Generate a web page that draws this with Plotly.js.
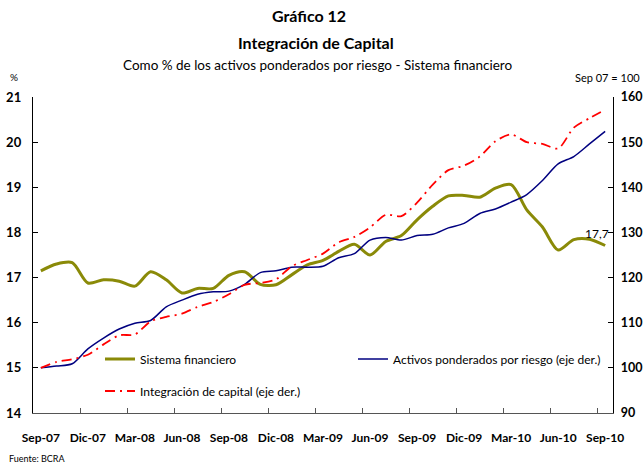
<!DOCTYPE html>
<html>
<head>
<meta charset="utf-8">
<script src="https://cdn.plot.ly/plotly-3.0.1.min.js"></script>
<style>
  html, body { margin: 0; padding: 0; background: #fff; }
  #chart { width: 643px; height: 466px; }
</style>
</head>
<body>
<div id="chart"></div>
<script>
// Monthly categories Sep-07 .. Sep-10
const months = [
  'Sep-07','Oct-07','Nov-07','Dic-07','Ene-08','Feb-08','Mar-08','Abr-08','May-08','Jun-08','Jul-08','Ago-08',
  'Sep-08','Oct-08','Nov-08','Dic-08','Ene-09','Feb-09','Mar-09','Abr-09','May-09','Jun-09','Jul-09','Ago-09',
  'Sep-09','Oct-09','Nov-09','Dic-09','Ene-10','Feb-10','Mar-10','Abr-10','May-10','Jun-10','Jul-10','Ago-10',
  'Sep-10'
];

// Sistema financiero (%), left axis
const sistemaFinanciero = [
  17.15, 17.30, 17.33, 16.88, 16.95, 16.92, 16.81, 17.13, 16.95, 16.66, 16.76, 16.76,
  17.05, 17.13, 16.85, 16.84, 17.06, 17.28, 17.38, 17.58, 17.74, 17.50, 17.80, 17.93,
  18.28, 18.58, 18.81, 18.82, 18.78, 18.98, 19.06, 18.50, 18.12, 17.61, 17.84, 17.85,
  17.71
];

// Activos ponderados por riesgo (Sep 07 = 100), right axis
const activosPonderados = [
  100.0, 100.4, 100.9, 104.2, 106.6, 108.6, 109.9, 110.5, 113.5, 115.0, 116.3, 116.85,
  117.0, 118.5, 121.1, 121.5, 122.3, 122.3, 122.5, 124.4, 125.3, 128.3, 128.9, 128.3,
  129.3, 129.6, 131.0, 132.0, 134.2, 135.2, 136.7, 138.4, 141.5, 145.2, 146.8, 149.6,
  152.4
];

// Integración de capital (Sep 07 = 100), right axis
const integracionCapital = [
  100.0, 101.3, 101.9, 102.9, 105.2, 107.2, 107.4, 110.3, 111.3, 112.0, 113.5, 114.6,
  116.3, 118.4, 118.8, 119.6, 122.5, 123.9, 125.3, 127.8, 129.0, 131.1, 133.9, 133.6,
  136.6, 140.6, 143.8, 144.8, 146.8, 150.2, 151.7, 150.0, 149.6, 148.6, 153.2, 155.3,
  157.2
];

const seriesNames = [
  'Sistema financiero',
  'Activos ponderados por riesgo (eje der.)',
  'Integración de capital (eje der.)'
];

const FONT = 'Lato, "Open Sans", sans-serif';
const idx = months.map((_, i) => i);
const labelIdx = idx.filter(i => i % 3 === 0);
const labelText = labelIdx.map(i => months[i]);
const boundaryIdx = labelIdx.slice(1).map(i => i - 0.5);
const xr = [-0.5, months.length - 0.5];

const traces = [
  {
    x: idx, y: sistemaFinanciero, name: seriesNames[0], type: 'scatter', mode: 'lines',
    line: { color: '#8a8a08', width: 3, shape: 'spline', smoothing: 0.8 },
    xaxis: 'x', yaxis: 'y', legend: 'legend'
  },
  {
    x: idx, y: activosPonderados, name: seriesNames[1], type: 'scatter', mode: 'lines',
    line: { color: '#000080', width: 1.5, shape: 'spline', smoothing: 0.8 },
    xaxis: 'x2', yaxis: 'y2', legend: 'legend2'
  },
  {
    x: idx, y: integracionCapital, name: seriesNames[2], type: 'scatter', mode: 'lines',
    line: { color: '#ff0000', width: 1.8, shape: 'spline', smoothing: 0.8, dash: '10px,5px,2px,5px' },
    xaxis: 'x2', yaxis: 'y2', legend: 'legend3'
  }
];

function py(px) { return (413 - px) / 316; }
function pxx(px) { return (px - 33) / 580; }

const lastI = months.length - 1;

const layout = {
  width: 643, height: 466,
  margin: { l: 33, r: 30, t: 97, b: 53 },
  paper_bgcolor: '#ffffff', plot_bgcolor: '#ffffff',
  font: { family: FONT, color: '#000000', size: 12 },
  showlegend: true,
  xaxis: {
    range: xr, tickmode: 'array', tickvals: labelIdx, ticktext: labelText,
    ticks: '', showgrid: false, zeroline: false,
    showline: true, linecolor: '#555555', linewidth: 1.2,
    tickfont: { family: FONT, size: 12, color: '#000', weight: 'bold' },
    ticklabelstandoff: 13, fixedrange: true
  },
  xaxis2: {
    overlaying: 'x', anchor: 'y2', range: xr, tickmode: 'array', tickvals: boundaryIdx,
    ticks: 'inside', ticklen: 5, tickcolor: '#555555', tickwidth: 1,
    showticklabels: false, showgrid: false, zeroline: false, showline: false
  },
  yaxis: {
    range: [14, 21], dtick: 1, tick0: 14, ticks: 'inside', ticklen: 5, tickcolor: '#000',
    showgrid: false, zeroline: false, showline: true, linecolor: '#000', linewidth: 1.2,
    tickfont: { family: FONT, size: 13, color: '#000', weight: 'bold' },
    ticklabelstandoff: 8
  },
  yaxis2: {
    overlaying: 'y', side: 'right', anchor: 'x2',
    range: [90, 160], dtick: 10, tick0: 90, ticks: 'inside', ticklen: 5, tickcolor: '#000',
    showgrid: false, zeroline: false, showline: true, linecolor: '#000', linewidth: 1.2,
    tickfont: { family: FONT, size: 12.5, color: '#000', weight: 'bold' },
    ticklabelstandoff: 4
  },
  legend: {
    x: pxx(100), y: py(359), xanchor: 'left', yanchor: 'middle',
    bgcolor: 'rgba(0,0,0,0)', font: { family: FONT, size: 12, color: '#000' }
  },
  legend2: {
    x: pxx(353), y: py(359), xanchor: 'left', yanchor: 'middle',
    bgcolor: 'rgba(0,0,0,0)', font: { family: FONT, size: 12, color: '#000' }
  },
  legend3: {
    x: pxx(100), y: py(391), xanchor: 'left', yanchor: 'middle',
    bgcolor: 'rgba(0,0,0,0)', font: { family: FONT, size: 12, color: '#000' }
  },
  annotations: [
    { text: '<b>Gráfico 12</b>', xref: 'paper', yref: 'paper', x: pxx(309), y: py(16),
      xanchor: 'center', yanchor: 'middle', showarrow: false, font: { family: FONT, size: 16 } },
    { text: '<b>Integración de Capital</b>', xref: 'paper', yref: 'paper', x: pxx(316), y: py(43),
      xanchor: 'center', yanchor: 'middle', showarrow: false, font: { family: FONT, size: 16 } },
    { text: 'Como % de los activos ponderados por riesgo - Sistema financiero', xref: 'paper', yref: 'paper',
      x: pxx(317), y: py(65), xanchor: 'center', yanchor: 'middle', showarrow: false, font: { family: FONT, size: 13.5 } },
    { text: '%', xref: 'paper', yref: 'paper', x: pxx(8), y: py(77),
      xanchor: 'left', yanchor: 'middle', showarrow: false, font: { family: FONT, size: 10 } },
    { text: 'Sep 07 = 100', xref: 'paper', yref: 'paper', x: pxx(642), y: py(77),
      xanchor: 'right', yanchor: 'middle', showarrow: false, font: { family: FONT, size: 11 } },
    { text: 'Fuente: BCRA', xref: 'paper', yref: 'paper', x: pxx(7), y: py(458),
      xanchor: 'left', yanchor: 'middle', showarrow: false, font: { family: FONT, size: 9 } },
    { text: sistemaFinanciero[lastI].toFixed(1).replace('.', ','), xref: 'x', yref: 'y',
      x: lastI, y: sistemaFinanciero[lastI], xanchor: 'center', yanchor: 'bottom',
      xshift: -8, yshift: 3, showarrow: false, font: { family: FONT, size: 12, color: '#000' } }
  ]
};

Plotly.newPlot('chart', traces, layout, { displayModeBar: false, staticPlot: true });
</script>
</body>
</html>
